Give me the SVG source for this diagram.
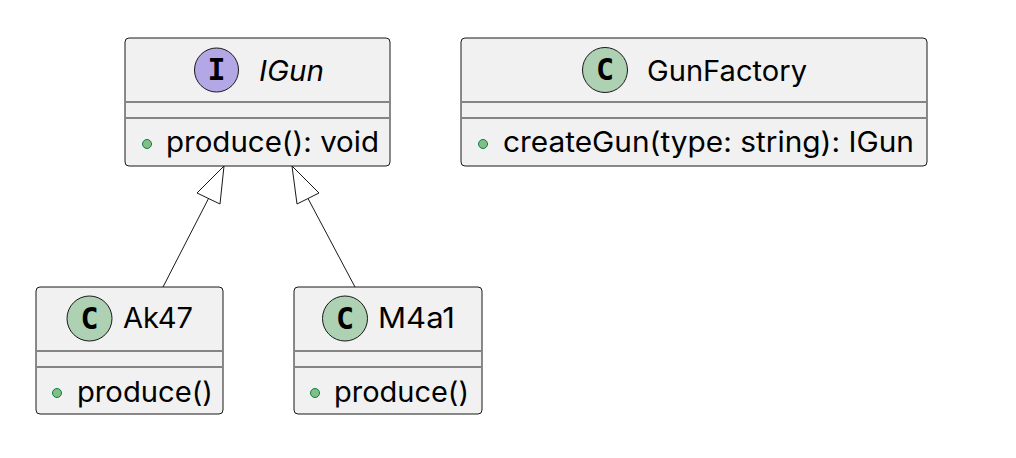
<svg xmlns="http://www.w3.org/2000/svg" width="1016" height="458" viewBox="0 0 1016 458">
<style>
.box{fill:#F1F1F1;stroke:#181818;stroke-width:1}
.sep{stroke:#181818;stroke-width:1}
.ci{fill:#ADD1B2;stroke:#181818;stroke-width:1}
.ii{fill:#B4A7E5;stroke:#181818;stroke-width:1}
.let{font-family:"DejaVu Sans Mono","Liberation Mono",monospace;font-weight:bold;font-size:30px;fill:#000;text-anchor:middle}
.t{font-family:Inter,"Liberation Sans",sans-serif;font-size:28px;fill:#000}
.dot{fill:#84BE84;stroke:#038048;stroke-width:1}
.edge{stroke:#181818;stroke-width:1;fill:none}
.head{fill:#FFFFFF;stroke:#181818;stroke-width:1}
</style>
<rect width="1016" height="458" fill="#FFFFFF"/>
<g id="IGun">
<rect class="box" x="125" y="38" width="265" height="128" rx="4"/>
<circle class="ii" cx="216.5" cy="70" r="22"/>
<text class="let" x="216.5" y="80">I</text>
<text class="t" x="259" y="81" font-style="italic" textLength="65" lengthAdjust="spacingAndGlyphs">IGun</text>
<line class="sep" x1="126" y1="102" x2="389" y2="102"/>
<line class="sep" x1="126" y1="118" x2="389" y2="118"/>
<circle class="dot" cx="147" cy="144" r="4.5"/>
<text class="t" x="166" y="152" textLength="213" lengthAdjust="spacingAndGlyphs">produce(): void</text>
</g>
<g id="GunFactory">
<rect class="box" x="461" y="38" width="466" height="128" rx="4"/>
<circle class="ci" cx="605" cy="70" r="22.5"/>
<text class="let" x="605" y="80">C</text>
<text class="t" x="647" y="81" textLength="160" lengthAdjust="spacingAndGlyphs">GunFactory</text>
<line class="sep" x1="462" y1="102" x2="926" y2="102"/>
<line class="sep" x1="462" y1="118" x2="926" y2="118"/>
<circle class="dot" cx="483" cy="144" r="4.5"/>
<text class="t" x="503" y="152" textLength="411" lengthAdjust="spacingAndGlyphs">createGun(type: string): IGun</text>
</g>
<g id="Ak47">
<rect class="box" x="36" y="287" width="187" height="127" rx="4"/>
<circle class="ci" cx="89.5" cy="318.5" r="22.5"/>
<text class="let" x="89.5" y="328.5">C</text>
<text class="t" x="123" y="328" textLength="70" lengthAdjust="spacingAndGlyphs">Ak47</text>
<line class="sep" x1="37" y1="351" x2="222" y2="351"/>
<line class="sep" x1="37" y1="367" x2="222" y2="367"/>
<circle class="dot" cx="57" cy="393" r="4.5"/>
<text class="t" x="77" y="402" textLength="136" lengthAdjust="spacingAndGlyphs">produce()</text>
</g>
<g id="M4a1">
<rect class="box" x="294" y="287" width="188" height="127" rx="4"/>
<circle class="ci" cx="345" cy="318.5" r="22.5"/>
<text class="let" x="345" y="328.5">C</text>
<text class="t" x="378" y="328" textLength="77" lengthAdjust="spacingAndGlyphs">M4a1</text>
<line class="sep" x1="295" y1="351" x2="481" y2="351"/>
<line class="sep" x1="295" y1="367" x2="481" y2="367"/>
<circle class="dot" cx="315" cy="393" r="4.5"/>
<text class="t" x="334" y="402" textLength="135" lengthAdjust="spacingAndGlyphs">produce()</text>
</g>
<g id="connectors">
<line class="edge" x1="163" y1="287" x2="208.5" y2="198.5"/>
<polygon class="head" points="224,166 197,193 220,204"/>
<line class="edge" x1="355" y1="287" x2="308" y2="198.5"/>
<polygon class="head" points="292,166 319,193 297,204"/>
</g>
</svg>
